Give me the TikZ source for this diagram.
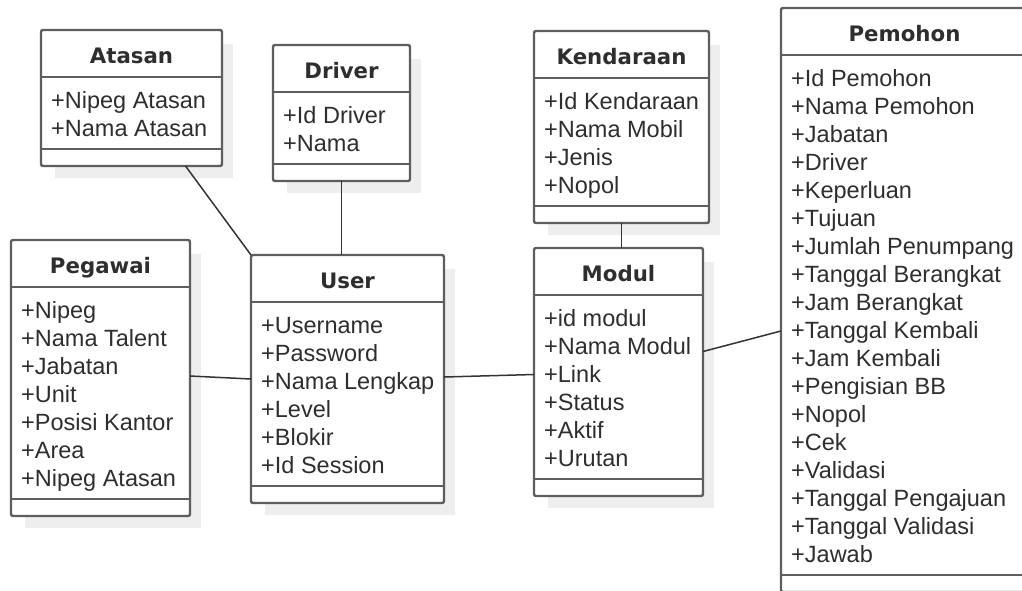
\documentclass[tikz,border=0pt]{standalone}
\usepackage{fontspec}
\setmainfont{Liberation Sans}
\newfontfamily\titlefont{DejaVu Sans}
\usetikzlibrary{calc}
\definecolor{boxline}{HTML}{5E5E5E}
\definecolor{txt}{HTML}{2E2E2E}
\definecolor{shade}{HTML}{EEEEEE}
\definecolor{connline}{HTML}{333333}
\tikzset{
  classbox/.style={draw=boxline, line width=2.4pt, fill=white, rounded corners=2pt, inner sep=0pt, outer sep=0pt},
  sepline/.style={draw=boxline, line width=2.2pt},
  shadowfill/.style={fill=shade},
  attrtext/.style={anchor=base west, inner sep=0pt, text=txt, font=\fontsize{23.5}{28}\selectfont},
  titletext/.style={anchor=base, inner sep=0pt, text=txt, font=\titlefont\bfseries\fontsize{21.3}{26}\selectfont},
  conn/.style={draw=connline, line width=1.5pt}
}
% #1 id, #2 left, #3 top, #4 width, #5 number of attributes, #6 title, #7 attributes
\newcommand{\umlclass}[7]{%
  \pgfmathsetmacro{\uh}{80+28*#5}%
  \fill[shadowfill] (#2+14,#3+14) rectangle (#2+#4+11,#3+\uh+12);
  \node[classbox, minimum width=#4pt, minimum height=\uh pt, anchor=north west] (#1) at (#2,#3) {};
  \draw[sepline] ([yshift=-47pt]#1.north west) -- ([yshift=-47pt]#1.north east);
  \draw[sepline] ([yshift=17pt]#1.south west) -- ([yshift=17pt]#1.south east);
  \node[titletext] (#1-t) at (#2+#4/2,#3+33) {#6};
  \foreach \a [count=\i from 0] in {#7} {
    \node[attrtext] (#1-a\i) at (#2+10,#3+78+28*\i) {\a};
  }
}
\begin{document}
\begin{tikzpicture}[x=1pt,y=-1pt]
\useasboundingbox (0,0) rectangle (1022,590);
\clip (0,0) rectangle (1022,590);
\fill[white] (0,0) rectangle (1022,590);

\umlclass{atasan}{41}{30}{181}{2}{Atasan}{+Nipeg Atasan,+Nama Atasan}
\umlclass{driver}{273}{45}{137}{2}{Driver}{+Id Driver,+Nama}
\umlclass{pegawai}{11}{240}{179}{7}{Pegawai}{+Nipeg,+Nama Talent,+Jabatan,+Unit,+Posisi Kantor,+Area,+Nipeg Atasan}
\umlclass{user}{251}{255}{193}{6}{User}{+Username,+Password,+Nama Lengkap,+Level,+Blokir,+Id Session}
\umlclass{kendaraan}{534}{31}{175}{4}{Kendaraan}{+Id Kendaraan,+Nama Mobil,+Jenis,+Nopol}
\umlclass{modul}{534}{248}{169}{6}{Modul}{+id modul,+Nama Modul,+Link,+Status,+Aktif,+Urutan}
\umlclass{pemohon}{781}{8}{247}{18}{Pemohon}{+Id Pemohon,+Nama Pemohon,+Jabatan,+Driver,+Keperluan,+Tujuan,+Jumlah Penumpang,+Tanggal Berangkat,+Jam Berangkat,+Tanggal Kembali,+Jam Kembali,+Pengisian BB,+Nopol,+Cek,+Validasi,+Tanggal Pengajuan,+Tanggal Validasi,+Jawab}

\draw[conn] ([xshift=54pt]atasan.south) -- (user.north west);
\draw[conn] (driver.south) -- (driver.south |- user.north);
\draw[conn] ([yshift=2pt]pegawai.east) -- (user.west);
\draw[conn] ([yshift=2pt]user.east) -- ([yshift=-2.5pt]modul.west);
\draw[conn] (kendaraan.south) -- (kendaraan.south |- modul.north);
\draw[conn] ([yshift=20.5pt]modul.east) -- ([yshift=-31pt]pemohon.west);
\end{tikzpicture}
\end{document}
